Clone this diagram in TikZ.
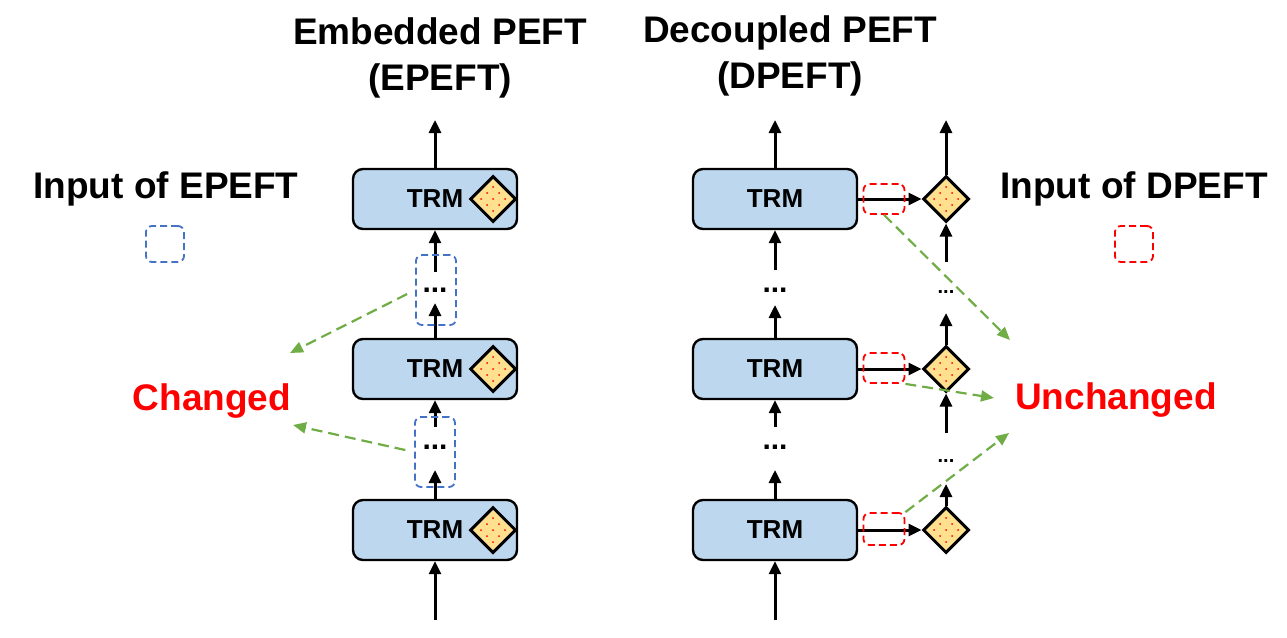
\documentclass[tikz,border=0pt]{standalone}
\usepackage{fontspec}
\setmainfont{Liberation Sans}
\usetikzlibrary{shapes.geometric,arrows.meta}
\definecolor{boxblue}{HTML}{BDD7EE}
\definecolor{dfill}{HTML}{FFE08F}
\definecolor{gdash}{HTML}{70AD47}
\definecolor{bdash}{HTML}{4472C4}
\definecolor{rdash}{HTML}{FF0000}
\definecolor{redtxt}{HTML}{FF0000}
\begin{document}
\begin{tikzpicture}[x=1pt,y=-1pt,
  trm/.style={draw=black,line width=2.4pt,fill=boxblue,rounded corners=10pt,
    minimum width=164pt,minimum height=60pt,inner sep=0pt,
    font=\fontsize{26}{30}\selectfont\bfseries},
  dia/.style={diamond,draw=black,line width=3pt,fill=dfill,
    minimum width=46pt,minimum height=46pt,inner sep=0pt},
  flow/.style={line width=3pt,-{Triangle[length=13pt,width=12pt]}},
  garrow/.style={gdash,line width=2.2pt,dash pattern=on 11pt off 6pt,
    -{Triangle[length=13pt,width=11pt]}},
  bbox/.style={draw=bdash,line width=1.8pt,dash pattern=on 7pt off 4pt,
    rounded corners=6pt,inner sep=0pt},
  rbox/.style={draw=rdash,line width=1.8pt,dash pattern=on 7pt off 4pt,
    rounded corners=6pt,inner sep=0pt},
  bigdots/.style={font=\fontsize{30}{34}\selectfont\bfseries,inner sep=0pt},
  smalldots/.style={font=\fontsize{20}{24}\selectfont\bfseries,inner sep=0pt},
  title/.style={align=center,font=\fontsize{37}{46}\selectfont\bfseries},
  label/.style={font=\fontsize{37}{44}\selectfont\bfseries,anchor=base},
  redlabel/.style={label,text=redtxt}
]
\useasboundingbox (0,0) rectangle (1287,637);

% titles
\node[title] (tE) at (440,58) {Embedded PEFT\\(EPEFT)};
\node[title] (tD) at (790,56) {Decoupled PEFT\\(DPEFT)};

% legends
\node[label] (inE) at (166,198) {Input of EPEFT};
\node[bbox,minimum width=38pt,minimum height=36pt] (bbL) at (165,244) {};
\node[label] (inD) at (1134,198) {Input of DPEFT};
\node[rbox,minimum width=38pt,minimum height=36pt] (rbL) at (1134,244) {};

\node[redlabel] (chg) at (212,410) {Changed};
\node[redlabel] (unchg) at (1116,409) {Unchanged};

% ---------- left (EPEFT) ----------
\node[trm] (t1) at (435,199) {TRM};
\node[trm] (t2) at (435,369) {TRM};
\node[trm] (t3) at (435,530) {TRM};
\foreach \n/\y in {ld1/199,ld2/369,ld3/530}{
  \node[dia] (\n) at (493,\y) {};
  \foreach \i/\j in {0/-12,-6/-6,6/-6,-12/0,0/0,12/0,-6/6,6/6,0/12}
    \fill[red] ([shift={(\i,\j)}]\n.center) circle (1pt);
}
\node[bigdots] (ldt1) at (435,290) {...};
\node[bigdots] (ldt2) at (435,447) {...};
\coordinate (lo1) at (435,120);
\coordinate (la) at (435,272);
\coordinate (lb) at (435,303);
\coordinate (lc) at (435,427);
\coordinate (ld) at (435,470);
\coordinate (le) at (435,620);
\draw[flow] (t1.north) -- (lo1);
\draw[flow] (la) -- (t1.south);
\draw[flow] (t2.north) -- (lb);
\draw[flow] (lc) -- (t2.south);
\draw[flow] (t3.north) -- (ld);
\draw[flow] (le) -- (t3.south);
\node[bbox,minimum width=40pt,minimum height=70pt] (bb1) at (436,290) {};
\node[bbox,minimum width=40pt,minimum height=70pt] (bb2) at (435,452) {};

% ---------- right (DPEFT) ----------
\node[trm] (r1) at (775,199) {TRM};
\node[trm] (r2) at (775,369) {TRM};
\node[trm] (r3) at (775,530) {TRM};
\foreach \n/\y in {rd1/199,rd2/369,rd3/530}{
  \node[dia] (\n) at (946,\y) {};
  \foreach \i/\j in {0/-12,-6/-6,6/-6,-12/0,0/0,12/0,-6/6,6/6,0/12}
    \fill[red] ([shift={(\i,\j)}]\n.center) circle (1pt);
}
\node[bigdots] (rdt1) at (775,290) {...};
\node[bigdots] (rdt2) at (775,447) {...};
\node[smalldots] (ddt1) at (946,292) {...};
\node[smalldots] (ddt2) at (946,461) {...};
\coordinate (ro1) at (775,120);
\coordinate (ra) at (775,270);
\coordinate (rb) at (775,305);
\coordinate (rc) at (775,427);
\coordinate (rdd) at (775,470);
\coordinate (re) at (775,620);
\draw[flow] (r1.north) -- (ro1);
\draw[flow] (ra) -- (r1.south);
\draw[flow] (r2.north) -- (rb);
\draw[flow] (rc) -- (r2.south);
\draw[flow] (r3.north) -- (rdd);
\draw[flow] (re) -- (r3.south);

\coordinate (do1) at (946,120);
\coordinate (da) at (946,262);
\coordinate (db) at (946,313);
\coordinate (dc) at (946,433);
\coordinate (dd) at (946,484);
\draw[flow] (rd1.north) -- (do1);
\draw[flow] (da) -- (rd1.south);
\draw[flow] (rd2.north) -- (db);
\draw[flow] (dc) -- (rd2.south);
\draw[flow] (rd3.north) -- (dd);

\draw[flow] (r1.east) -- (rd1.west);
\draw[flow] (r2.east) -- (rd2.west);
\draw[flow] (r3.east) -- (rd3.west);

\node[rbox,minimum width=41pt,minimum height=30pt] (rb1) at (884,199) {};
\node[rbox,minimum width=41pt,minimum height=30pt] (rb2) at (884,368) {};
\node[rbox,minimum width=41pt,minimum height=32pt] (rb3) at (884,529) {};

% ---------- green dashed arrows ----------
\coordinate (gE1) at (290,353);
\coordinate (gE2) at (293,425);
\coordinate (gD1) at (1010,340);
\coordinate (gD2) at (994,398);
\coordinate (gD3) at (1009,433);
\draw[garrow,shorten <=9pt] (bb1.west) -- (gE1);
\draw[garrow,shorten <=9pt] (bb2.west) -- (gE2);
\draw[garrow] (rb1.south) -- (gD1);
\draw[garrow] (rb2.south east) -- (gD2);
\draw[garrow] (rb3.north east) -- (gD3);
\end{tikzpicture}
\end{document}
